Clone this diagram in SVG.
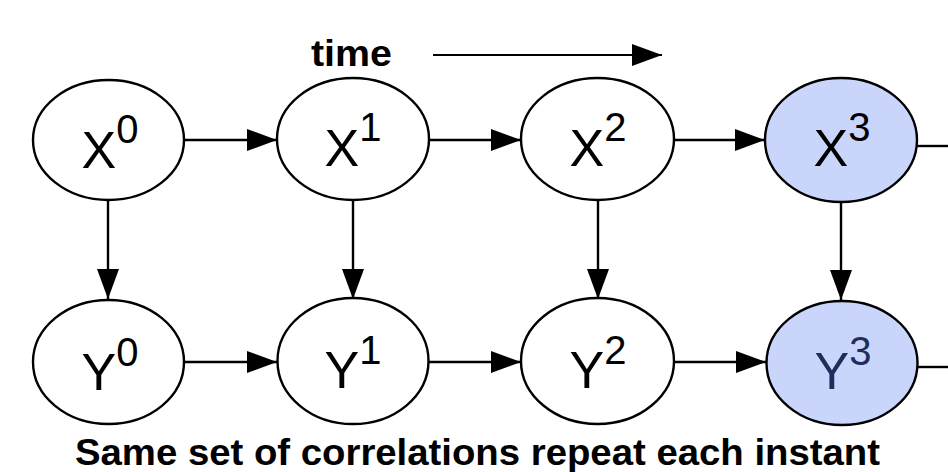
<svg xmlns="http://www.w3.org/2000/svg" width="948" height="472" viewBox="0 0 948 472">
<defs>
<marker id="ah" markerUnits="userSpaceOnUse" markerWidth="31" markerHeight="23" refX="30" refY="11" orient="auto">
<path d="M0,0 L30,11 L0,22 Z" fill="#000"/>
</marker>
<style>
.node{fill:#fff;stroke:#000;stroke-width:2.4}
.hl{fill:#c9d5fa}
.lbl{font-family:"Liberation Sans",Arial,sans-serif;font-size:52px;fill:#000}
.sup{font-size:40px}
.conn line{stroke:#000;stroke-width:2.4;fill:none}
.bold{font-family:"Liberation Sans",Arial,sans-serif;font-weight:bold;fill:#000}
</style>
</defs>
<rect width="948" height="472" fill="#fff"/>
<g id="conn" class="conn">
<line x1="433" y1="55" x2="662" y2="55" marker-end="url(#ah)" style="stroke-width:2"/>
<line x1="185" y1="140" x2="277" y2="140" marker-end="url(#ah)"/>
<line x1="429" y1="140" x2="521" y2="140" marker-end="url(#ah)"/>
<line x1="674" y1="140" x2="765" y2="140" marker-end="url(#ah)"/>
<line x1="917" y1="146" x2="948" y2="146"/>
<line x1="185" y1="362" x2="277" y2="362" marker-end="url(#ah)"/>
<line x1="429" y1="362" x2="521" y2="362" marker-end="url(#ah)"/>
<line x1="674" y1="362" x2="766" y2="362" marker-end="url(#ah)"/>
<line x1="918" y1="367" x2="948" y2="367"/>
<line x1="108" y1="201" x2="108" y2="299" marker-end="url(#ah)"/>
<line x1="353" y1="201" x2="353" y2="299" marker-end="url(#ah)"/>
<line x1="598" y1="201" x2="598" y2="299" marker-end="url(#ah)"/>
<line x1="841" y1="203" x2="841" y2="300" marker-end="url(#ah)"/>
</g>
<text class="bold" x="311" y="66" font-size="36" textLength="81" lengthAdjust="spacingAndGlyphs">time</text>
<g id="X0"><ellipse class="node" cx="108.5" cy="140" rx="75.5" ry="60"/><text class="lbl" x="110" y="168" text-anchor="middle">X<tspan class="sup" dy="-25">0</tspan></text></g>
<g id="X1"><ellipse class="node" cx="353" cy="139" rx="76" ry="61"/><text class="lbl" x="353" y="166" text-anchor="middle">X<tspan class="sup" dy="-25">1</tspan></text></g>
<g id="X2"><ellipse class="node" cx="597.5" cy="139" rx="76.5" ry="61"/><text class="lbl" x="598" y="166" text-anchor="middle">X<tspan class="sup" dy="-25">2</tspan></text></g>
<g id="X3"><ellipse class="node hl" cx="841" cy="140" rx="76" ry="62"/><text class="lbl" x="842" y="166" text-anchor="middle">X<tspan class="sup" dy="-25">3</tspan></text></g>
<g id="Y0"><ellipse class="node" cx="108.5" cy="362" rx="75.5" ry="62"/><text class="lbl" x="110" y="390" text-anchor="middle">Y<tspan class="sup" dy="-24">0</tspan></text></g>
<g id="Y1"><ellipse class="node" cx="353" cy="361" rx="75.5" ry="63"/><text class="lbl" x="353" y="388" text-anchor="middle">Y<tspan class="sup" dy="-24">1</tspan></text></g>
<g id="Y2"><ellipse class="node" cx="597.5" cy="361" rx="76.5" ry="63"/><text class="lbl" x="598" y="388" text-anchor="middle">Y<tspan class="sup" dy="-24">2</tspan></text></g>
<g id="Y3"><ellipse class="node hl" cx="842" cy="363" rx="75.5" ry="62"/><text class="lbl" x="843" y="389" text-anchor="middle" style="fill:#1f2d5c">Y<tspan class="sup" dy="-24">3</tspan></text></g>
<text class="bold" x="75" y="465" font-size="37" textLength="805" lengthAdjust="spacingAndGlyphs">Same set of correlations repeat each instant</text>
</svg>
